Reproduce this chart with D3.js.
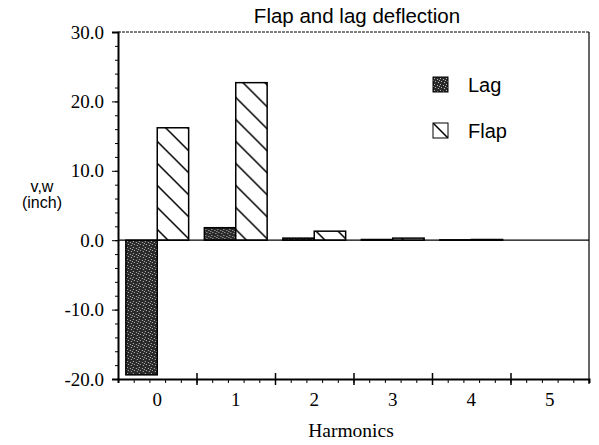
<!DOCTYPE html>
<html>
<head>
<meta charset="utf-8">
<script src="https://cdn.jsdelivr.net/npm/d3@7"></script>
<style>
  body { margin: 0; background: #fff; }
  svg { display: block; }
</style>
</head>
<body>
<svg id="chart"></svg>
<script>
// harmonics and deflections (inch)
var harmonics = ["0", "1", "2", "3", "4", "5"];
var lagValues = [-19.4, 1.8, 0.3, 0.1, 0.05, 0.0];
var flapValues = [16.2, 22.7, 1.3, 0.3, 0.1, 0.0];
var seriesNames = ["Lag", "Flap"];
var yTicks = [-20, -10, 0, 10, 20, 30];

var w = 599, h = 445;
var plotLeft = 118, plotRight = 589, plotTop = 32, plotBottom = 379;

var svg = d3.select("#chart").attr("width", w).attr("height", h);
var defs = svg.append("defs");

// stippled dark fill for Lag
var stip = defs.append("pattern")
    .attr("id", "stipple")
    .attr("patternUnits", "userSpaceOnUse")
    .attr("width", 6).attr("height", 6);
stip.append("rect").attr("width", 6).attr("height", 6).attr("fill", "#2a2a2a");
var dots = [[1, 1], [4, 2], [2, 4], [5, 5], [0, 3]];
dots.forEach(function(d) {
  stip.append("rect").attr("x", d[0]).attr("y", d[1])
      .attr("width", 1).attr("height", 1).attr("fill", "#bbb");
});

// "\" hatching for Flap
var hatch = defs.append("pattern")
    .attr("id", "hatch")
    .attr("patternUnits", "userSpaceOnUse")
    .attr("width", 22).attr("height", 22);
hatch.append("rect").attr("width", 22).attr("height", 22).attr("fill", "#fff");
hatch.append("path")
    .attr("d", "M-2,-2 L24,24 M-13,9 L2,24 M9,-13 L24,2")
    .attr("stroke", "#000").attr("stroke-width", 1.5);

var fills = { "Lag": "url(#stipple)", "Flap": "url(#hatch)" };

var x = d3.scaleBand().domain(harmonics).range([plotLeft, plotRight])
    .paddingInner(0.2).paddingOuter(0.1);
var xSub = d3.scaleBand().domain(seriesNames).range([0, x.bandwidth()]);
var xb = d3.scaleLinear().domain([-0.5, 5.5]).range([plotLeft, plotRight]);
var y = d3.scaleLinear().domain([-20, 30]).range([plotBottom, plotTop]);

var fmt = function(d) { return d3.format(".1f")(d).replace("\u2212", "-"); };

var serif = "Liberation Serif, Times New Roman, serif";
var sans = "Liberation Sans, Arial, sans-serif";

// title
svg.append("text")
    .attr("x", 357).attr("y", 23)
    .attr("text-anchor", "middle")
    .style("font-family", sans)
    .style("font-size", "20.5px")
    .text("Flap and lag deflection");

// frame: dotted top, thin right
svg.append("line")
    .attr("x1", plotLeft).attr("x2", plotRight).attr("y1", plotTop).attr("y2", plotTop)
    .attr("stroke", "#000").attr("stroke-width", 1).attr("stroke-dasharray", "3,1");
svg.append("line")
    .attr("x1", plotRight).attr("x2", plotRight).attr("y1", plotTop).attr("y2", plotBottom + 5)
    .attr("stroke", "#000").attr("stroke-width", 1.2);

// bars
var rows = harmonics.map(function(hm, i) {
  return { h: hm, values: [{ s: "Lag", v: lagValues[i] }, { s: "Flap", v: flapValues[i] }] };
});

var groups = svg.selectAll("g.grp").data(rows).enter()
    .append("g").attr("class", "grp")
    .attr("transform", function(d) { return "translate(" + x(d.h) + ",0)"; });

groups.selectAll("rect").data(function(d) { return d.values; }).enter()
    .append("rect")
    .attr("x", function(d) { return xSub(d.s); })
    .attr("width", xSub.bandwidth())
    .attr("y", function(d) { return y(Math.max(0, d.v)); })
    .attr("height", function(d) { return Math.abs(y(d.v) - y(0)); })
    .attr("fill", function(d) { return fills[d.s]; })
    .attr("stroke", "#000")
    .attr("stroke-width", 1.5);

// zero line
svg.append("line")
    .attr("x1", plotLeft).attr("x2", plotRight).attr("y1", y(0)).attr("y2", y(0))
    .attr("stroke", "#000").attr("stroke-width", 1.3);

// y axis: minor ticks then major with labels
svg.append("g")
    .attr("transform", "translate(" + plotLeft + ",0)")
    .call(d3.axisLeft(y).tickValues(d3.range(-20, 31, 2)).tickSize(3).tickFormat(""))
    .call(function(g) { g.select(".domain").remove(); });
var yAxis = svg.append("g")
    .attr("transform", "translate(" + plotLeft + ",0)")
    .call(d3.axisLeft(y).tickValues(yTicks).tickSize(6).tickPadding(8).tickFormat(fmt));
yAxis.select(".domain").attr("stroke-width", 2);
yAxis.selectAll("text")
    .style("font-family", serif)
    .style("font-size", "19px")
    .attr("fill", "#000");

// x axis: boundaries with crossing ticks, minor ticks below
svg.append("g")
    .attr("transform", "translate(0," + plotBottom + ")")
    .call(d3.axisBottom(xb).tickValues(d3.range(-0.5, 5.5, 0.2)).tickSize(4).tickFormat(""))
    .call(function(g) { g.select(".domain").attr("stroke-width", 2); });
svg.append("g")
    .attr("transform", "translate(0," + (plotBottom - 6) + ")")
    .call(d3.axisBottom(xb).tickValues([0.5, 1.5, 2.5, 3.5, 4.5]).tickSize(12).tickFormat(""))
    .call(function(g) { g.select(".domain").remove(); g.selectAll("line").attr("stroke-width", 1.5); });
var xAxis = svg.append("g")
    .attr("transform", "translate(0," + plotBottom + ")")
    .call(d3.axisBottom(x).tickSize(0).tickPadding(14));
xAxis.select(".domain").remove();
xAxis.selectAll("text")
    .style("font-family", serif)
    .style("font-size", "19px")
    .attr("fill", "#000");

// axis titles
svg.append("text")
    .attr("x", 351).attr("y", 437)
    .attr("text-anchor", "middle")
    .style("font-family", serif)
    .style("font-size", "19.5px")
    .text("Harmonics");
var yl = svg.append("text")
    .attr("text-anchor", "middle")
    .style("font-family", sans)
    .style("font-size", "16px");
yl.append("tspan").attr("x", 42).attr("y", 192).text("v,w");
yl.append("tspan").attr("x", 42).attr("y", 208).text("(inch)");

// legend
var legend = svg.selectAll("g.leg").data(seriesNames).enter()
    .append("g").attr("class", "leg")
    .attr("transform", function(d, i) { return "translate(433," + (77 + i * 46) + ")"; });
legend.append("rect")
    .attr("width", 15).attr("height", 15)
    .attr("fill", function(d) { return fills[d]; })
    .attr("stroke", "#000").attr("stroke-width", 1);
legend.append("text")
    .attr("x", 35).attr("y", 15)
    .style("font-family", sans)
    .style("font-size", "20px")
    .text(function(d) { return d; });
</script>
</body>
</html>
